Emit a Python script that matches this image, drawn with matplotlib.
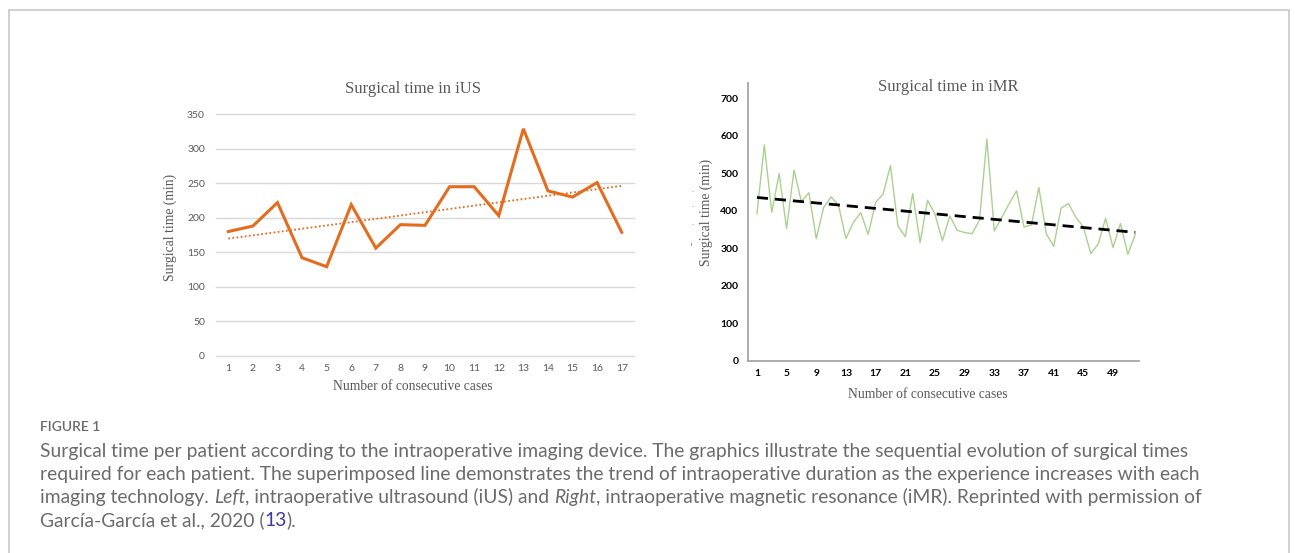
import numpy as np
import matplotlib
matplotlib.use("Agg")
import matplotlib.pyplot as plt
from matplotlib.patches import Rectangle

# Figure size in pixels
W, H = 1295, 553

# Left chart: intraoperative ultrasound (iUS)
ius_cases = list(range(1, 18))
ius_times = [180, 188, 222, 142, 129, 219, 156, 190, 189, 245, 245, 203, 329, 239, 230, 251, 179]
ius_yticks = [0, 50, 100, 150, 200, 250, 300, 350]

# Right chart: intraoperative magnetic resonance (iMR)
imr_cases = list(range(1, 53))
imr_times = [392, 575, 396, 499, 353, 508, 424, 448, 326, 409,
             437, 414, 326, 369, 395, 337, 422, 444, 520, 360,
             331, 446, 315, 428, 391, 320, 386, 348, 342, 339,
             375, 591, 346, 382, 419, 453, 357, 362, 462, 339,
             305, 407, 419, 382, 357, 286, 311, 380, 302, 366,
             284, 337]
imr_xticks = list(range(1, 50, 4))
imr_yticks = [0, 100, 200, 300, 400, 500, 600, 700]

GREY_TXT = "#595959"
SERIF = "Liberation Serif"
SANS = "Lato"

fig = plt.figure(figsize=(W / 100, H / 100), dpi=100)


def px_axes(x0, y0, x1, y1):
    # axes from pixel box given with top-left origin
    return fig.add_axes([x0 / W, 1 - y1 / H, (x1 - x0) / W, (y1 - y0) / H])


def px_text(x, y, s, **kw):
    return fig.text(x / W, 1 - y / H, s, **kw)


# light frame around the whole figure
fig.patches.append(Rectangle((9 / W, -0.05), (1289 - 9) / W, 1 - 10 / H + 0.05,
                             transform=fig.transFigure, fill=False,
                             edgecolor="#c8c8c8", linewidth=1.2))

# ---- left chart ----
ax1 = px_axes(216, 114.3, 634, 355.7)
ax1.plot(ius_cases, ius_times, color="#e46c1e", linewidth=2.2, solid_joinstyle="miter")
fit1 = np.polyfit(ius_cases, ius_times, 1)
ax1.plot(ius_cases, np.polyval(fit1, ius_cases), color="#e46c1e", linewidth=1.3,
         linestyle=(0, (1, 1.3)))
ax1.set_xlim(0.5, 17.5)
ax1.set_ylim(0, 350)
ax1.set_xticks(ius_cases)
ax1.set_yticks(ius_yticks)
for v in ius_yticks:
    ax1.axhline(v, color="#d9d9d9", linewidth=1, zorder=0, clip_on=False)
for s in ax1.spines.values():
    s.set_visible(False)
ax1.tick_params(length=0, labelsize=7.5, labelcolor=GREY_TXT)
ax1.tick_params(axis="y", pad=8)
ax1.tick_params(axis="x", pad=6)
for lab in ax1.get_xticklabels() + ax1.get_yticklabels():
    lab.set_family(SANS)

px_text(413, 89, "Surgical time in iUS", ha="center", va="center",
        family=SERIF, fontsize=12, color=GREY_TXT)
px_text(413, 386, "Number of consecutive cases", ha="center", va="center",
        family=SERIF, fontsize=9.8, color=GREY_TXT)
px_text(170, 227, "Surgical time (min)", ha="center", va="center", rotation=90,
        family=SERIF, fontsize=9.8, color=GREY_TXT)

# ---- right chart ----
ax2 = px_axes(748, 83, 1139, 361)
ax2.plot(imr_cases, imr_times, color="#a9d18e", linewidth=1.0)
fit2 = np.polyfit(imr_cases, imr_times, 1)
ax2.plot(imr_cases, np.polyval(fit2, imr_cases), color="black", linewidth=2.0,
         linestyle=(0, (4, 2.5)))
ax2.set_xlim(-0.2, 52.5)
ax2.set_ylim(0, 740)
ax2.set_xticks(imr_xticks)
ax2.set_yticks(imr_yticks)
ax2.spines["top"].set_visible(False)
ax2.spines["right"].set_visible(False)
ax2.spines["left"].set_color("#a6a6a6")
ax2.spines["bottom"].set_color("#a6a6a6")
ax2.spines["left"].set_linewidth(1.3)
ax2.spines["bottom"].set_linewidth(1.3)
ax2.tick_params(length=0, labelsize=7.5, labelcolor="black")
ax2.tick_params(axis="y", pad=7)
ax2.tick_params(axis="x", pad=6)
for lab in ax2.get_xticklabels() + ax2.get_yticklabels():
    lab.set_family(SANS)
    lab.set_fontweight("bold")

px_text(948, 87, "Surgical time in iMR", ha="center", va="center",
        family=SERIF, fontsize=12, color=GREY_TXT)
px_text(928, 394, "Number of consecutive cases", ha="center", va="center",
        family=SERIF, fontsize=9.8, color=GREY_TXT)
px_text(706, 212, "Surgical time (min)", ha="center", va="center", rotation=90,
        family=SERIF, fontsize=9.8, color=GREY_TXT)
# stray marks left of the iMR axis
px_text(692, 243, "-", ha="center", va="center", rotation=90, fontsize=6, color="#555555")
for yy in [190, 205, 223]:
    px_text(692, yy, ".", ha="center", va="center", fontsize=5, color="#777777")

# ---- caption ----
CAP = "#6b6b6b"
CAP_FS = 13.9
px_text(40, 427, "FIGURE 1", ha="left", va="center", family=SANS, fontsize=10,
        color=CAP, fontweight="semibold")

fig.canvas.draw()
renderer = fig.canvas.get_renderer()


def text_width(s, style):
    t = fig.text(0, 0, s + "|", family=SANS, fontsize=CAP_FS, fontstyle=style)
    w1 = t.get_window_extent(renderer=renderer).width
    t.set_text("|")
    w2 = t.get_window_extent(renderer=renderer).width
    t.remove()
    return w1 - w2


def rich_line(x, y, pieces):
    for s, style, color in pieces:
        px_text(x, y, s, ha="left", va="center", family=SANS, fontsize=CAP_FS,
                fontstyle=style, color=color)
        x += text_width(s, style)


caption = [
    [("Surgical time per patient according to the intraoperative imaging device. "
      "The graphics illustrate the sequential evolution of surgical times", "normal", CAP)],
    [("required for each patient. The superimposed line demonstrates the trend of "
      "intraoperative duration as the experience increases with each", "normal", CAP)],
    [("imaging technology. ", "normal", CAP), ("Left", "italic", CAP),
     (", intraoperative ultrasound (iUS) and ", "normal", CAP), ("Right", "italic", CAP),
     (", intraoperative magnetic resonance (iMR). Reprinted with permission of", "normal", CAP)],
    [("García-García et al., 2020 (", "normal", CAP), ("13", "normal", "#3b3b9e"),
     (").", "normal", CAP)],
]
for i, pieces in enumerate(caption):
    rich_line(40, 451 + i * 23.2, pieces)

fig.savefig("out.png", dpi=100)
